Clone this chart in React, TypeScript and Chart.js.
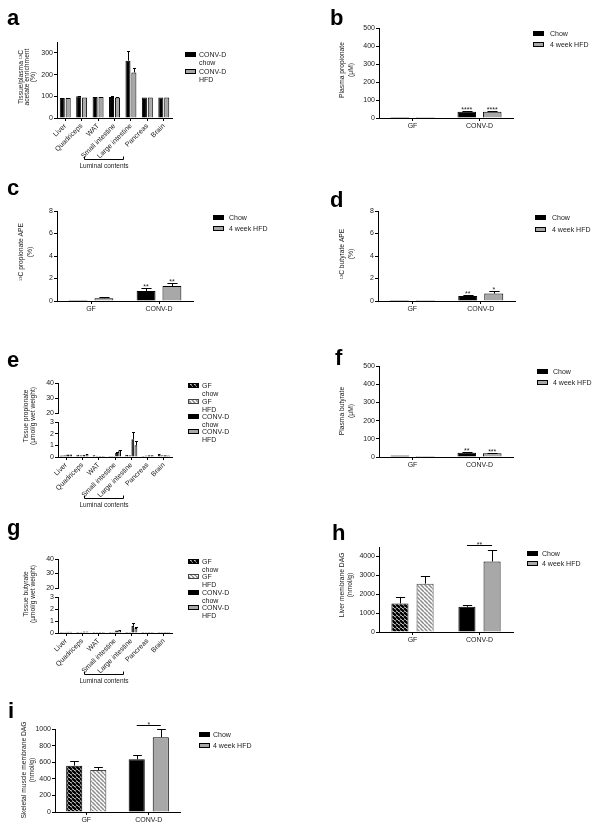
import React, { useEffect, useRef } from 'react';
import { Chart, registerables } from 'chart.js';

Chart.register(...registerables);

const FONT = '"Liberation Sans", Arial, Helvetica, sans-serif';
const TXT = '#1a1a1a';
const GREY = '#a8a8a8';
const YW = 24;
const XH = 14;
const XH_ROT = 40;

// ---------------- data ----------------
const tissueLabels = ['Liver', 'Quadriceps', 'WAT', 'Small intestine', 'Large intestine', 'Pancreas', 'Brain'];
const groupLabels = ['GF', 'CONV-D'];

// a: tissue/plasma 13C acetate enrichment (%)
const acetateChow = [92, 100, 97, 97, 264, 94, 94];
const acetateChowSem = [2, 3, 2, 6, 45, 1, 1];
const acetateHfd = [92, 94, 97, 94, 210, 94, 94];
const acetateHfdSem = [2, 1, 2, 3, 20, 1, 1];
const acetateTicks = [0, 100, 200, 300];

// b: plasma propionate (uM)
const plasmaPropChow = [3, 35];
const plasmaPropChowSem = [1, 3];
const plasmaPropChowStars = ['', '****'];
const plasmaPropHfd = [3, 35];
const plasmaPropHfdSem = [1, 3];
const plasmaPropHfdStars = ['', '****'];
const plasmaTicks = [0, 100, 200, 300, 400, 500];

// c: 13C propionate APE (%)
const apePropChow = [0.05, 0.89];
const apePropChowSem = [0.02, 0.24];
const apePropChowStars = ['', '**'];
const apePropHfd = [0.25, 1.33];
const apePropHfdSem = [0.12, 0.3];
const apePropHfdStars = ['', '**'];
const apeTicks = [0, 2, 4, 6, 8];

// d: 13C butyrate APE (%)
const apeButChow = [0.02, 0.44];
const apeButChowSem = [0.01, 0.1];
const apeButChowStars = ['', '**'];
const apeButHfd = [0.04, 0.66];
const apeButHfdSem = [0.02, 0.23];
const apeButHfdStars = ['', '*'];

// e: tissue propionate (umol/g wet weight)
const tPropGfChow = [0.12, 0.2, 0.15, 0.05, 0.2, 0.05, 0.25];
const tPropGfChowSem = [0.03, 0.03, 0.02, 0.01, 0.04, 0.01, 0.04];
const tPropGfHfd = [0.15, 0.15, 0.1, 0.05, 0.15, 0.12, 0.15];
const tPropGfHfdSem = [0.03, 0.03, 0.02, 0.01, 0.03, 0.02, 0.03];
const tPropConvChow = [0.22, 0.2, 0.08, 0.35, 1.52, 0.15, 0.15];
const tPropConvChowSem = [0.04, 0.03, 0.02, 0.06, 0.6, 0.03, 0.03];
const tPropConvHfd = [0.22, 0.25, 0.05, 0.57, 1.0, 0.15, 0.12];
const tPropConvHfdSem = [0.04, 0.04, 0.02, 0.05, 0.37, 0.03, 0.03];
const tissueLowTicks = [0, 1, 2, 3];
const tissueHighTicks = [20, 30, 40];

// f: plasma butyrate (uM)
const plasmaButChow = [8, 24];
const plasmaButChowSem = [2, 3];
const plasmaButChowStars = ['', '**'];
const plasmaButHfd = [3, 20];
const plasmaButHfdSem = [1, 3];
const plasmaButHfdStars = ['', '***'];

// g: tissue butyrate (umol/g wet weight)
const tButGfChow = [0.05, 0.05, 0.05, 0.03, 0.05, 0.05, 0.05];
const tButGfChowSem = [0.01, 0.01, 0.01, 0.01, 0.01, 0.01, 0.01];
const tButGfHfd = [0.05, 0.08, 0.05, 0.05, 0.05, 0.03, 0.05];
const tButGfHfdSem = [0.01, 0.01, 0.01, 0.01, 0.01, 0.01, 0.01];
const tButConvChow = [0.1, 0.12, 0.05, 0.2, 0.6, 0.08, 0.08];
const tButConvChowSem = [0.02, 0.02, 0.01, 0.04, 0.25, 0.02, 0.02];
const tButConvHfd = [0.1, 0.12, 0.03, 0.25, 0.42, 0.07, 0.05];
const tButConvHfdSem = [0.02, 0.02, 0.01, 0.04, 0.1, 0.02, 0.01];

// h: liver membrane DAG (nmol/g)
const liverDagChow = [1510, 1333];
const liverDagChowSem = [320, 120];
const liverDagHfd = [2560, 3737];
const liverDagHfdSem = [400, 615];
const liverDagTicks = [0, 1000, 2000, 3000, 4000];

// i: skeletal muscle membrane DAG (nmol/g)
const muscleDagChow = [558, 635];
const muscleDagChowSem = [60, 52];
const muscleDagHfd = [506, 900];
const muscleDagHfdSem = [32, 100];
const muscleDagTicks = [0, 200, 400, 600, 800, 1000];

// ---------------- specs ----------------
type FillKey = 'black' | 'grey' | 'hatchDark' | 'hatchLight';
interface Series { label: string; data: number[]; sem: number[]; stars?: string[]; fill: FillKey | FillKey[]; stroke: string | string[]; }
interface YSpec { id: string; min: number; max: number; ticks: number[] | null; sw?: number; }
interface Spec {
  id: string; letter: string; letterPos: [number, number];
  box: [number, number, number, number];
  area: [number, number, number, number];
  labels: string[]; rotate: boolean; catPct: number; barPct: number;
  series: Series[]; y: YSpec[];
  yTitle: { lines: string[]; xs: number[]; yc: number };
  legend: { x: number; tx: number; ys: number[]; items: { lines: string[]; fill: FillKey; stroke: string }[] };
  bracket?: boolean;
  sig?: { index: number; text: string; dy: number };
}

const twoLegend = (x: number, tx: number, ys: number[]) => ({
  x, tx, ys,
  items: [
    { lines: ['Chow'], fill: 'black' as FillKey, stroke: '#000' },
    { lines: ['4 week HFD'], fill: 'grey' as FillKey, stroke: '#000' },
  ],
});
const fourLegend = (ys: number[]) => ({
  x: 188, tx: 202, ys,
  items: [
    { lines: ['GF', 'chow'], fill: 'hatchDark' as FillKey, stroke: '#000' },
    { lines: ['GF', 'HFD'], fill: 'hatchLight' as FillKey, stroke: '#444' },
    { lines: ['CONV-D', 'chow'], fill: 'black' as FillKey, stroke: '#000' },
    { lines: ['CONV-D', 'HFD'], fill: 'grey' as FillKey, stroke: '#000' },
  ],
});

const SPECS: Spec[] = [
  {
    id: 'a', letter: 'a', letterPos: [7, 25], box: [0, 0, 300, 178], area: [57, 42, 172, 118],
    labels: tissueLabels, rotate: true, catPct: 0.72, barPct: 0.85,
    series: [
      { label: 'CONV-D chow', data: acetateChow, sem: acetateChowSem, fill: 'black', stroke: '#000' },
      { label: 'CONV-D HFD', data: acetateHfd, sem: acetateHfdSem, fill: 'grey', stroke: '#000' },
    ],
    y: [{ id: 'y', min: 0, max: 350, ticks: acetateTicks }],
    yTitle: { lines: ['Tissue/plasma ¹³C', 'acetate enrichment', '(%)'], xs: [21, 27, 33], yc: 77 },
    legend: {
      x: 185, tx: 199, ys: [52, 69],
      items: [
        { lines: ['CONV-D', 'chow'], fill: 'black', stroke: '#000' },
        { lines: ['CONV-D', 'HFD'], fill: 'grey', stroke: '#000' },
      ],
    },
    bracket: true,
  },
  {
    id: 'b', letter: 'b', letterPos: [330, 25], box: [300, 0, 302, 140], area: [379, 28, 513, 118],
    labels: groupLabels, rotate: false, catPct: 0.76, barPct: 0.73,
    series: [
      { label: 'Chow', data: plasmaPropChow, sem: plasmaPropChowSem, stars: plasmaPropChowStars, fill: 'black', stroke: '#000' },
      { label: '4 week HFD', data: plasmaPropHfd, sem: plasmaPropHfdSem, stars: plasmaPropHfdStars, fill: 'grey', stroke: '#000' },
    ],
    y: [{ id: 'y', min: 0, max: 500, ticks: plasmaTicks }],
    yTitle: { lines: ['Plasma propionate', '(μM)'], xs: [342, 351], yc: 70 },
    legend: twoLegend(533, 550, [31, 42]),
  },
  {
    id: 'c', letter: 'c', letterPos: [7, 195], box: [0, 178, 300, 140], area: [57, 211, 193, 301],
    labels: groupLabels, rotate: false, catPct: 0.76, barPct: 0.73,
    series: [
      { label: 'Chow', data: apePropChow, sem: apePropChowSem, stars: apePropChowStars, fill: 'black', stroke: '#000' },
      { label: '4 week HFD', data: apePropHfd, sem: apePropHfdSem, stars: apePropHfdStars, fill: 'grey', stroke: '#000' },
    ],
    y: [{ id: 'y', min: 0, max: 8, ticks: apeTicks }],
    yTitle: { lines: ['¹³C propionate APE', '(%)'], xs: [21, 30], yc: 252 },
    legend: twoLegend(213, 229, [215, 226]),
  },
  {
    id: 'd', letter: 'd', letterPos: [330, 207], box: [300, 178, 302, 140], area: [378, 211, 515, 301],
    labels: groupLabels, rotate: false, catPct: 0.76, barPct: 0.73,
    series: [
      { label: 'Chow', data: apeButChow, sem: apeButChowSem, stars: apeButChowStars, fill: 'black', stroke: '#000' },
      { label: '4 week HFD', data: apeButHfd, sem: apeButHfdSem, stars: apeButHfdStars, fill: 'grey', stroke: '#000' },
    ],
    y: [{ id: 'y', min: 0, max: 8, ticks: apeTicks }],
    yTitle: { lines: ['¹³C butyrate APE', '(%)'], xs: [342, 351], yc: 254 },
    legend: twoLegend(535, 552, [215, 227]),
  },
  {
    id: 'e', letter: 'e', letterPos: [7, 367], box: [0, 340, 300, 175], area: [58, 383, 172, 457],
    labels: tissueLabels, rotate: true, catPct: 0.76, barPct: 0.9,
    series: [
      { label: 'GF chow', data: tPropGfChow, sem: tPropGfChowSem, fill: 'hatchDark', stroke: '#000' },
      { label: 'GF HFD', data: tPropGfHfd, sem: tPropGfHfdSem, fill: 'hatchLight', stroke: '#444' },
      { label: 'CONV-D chow', data: tPropConvChow, sem: tPropConvChowSem, fill: 'black', stroke: '#000' },
      { label: 'CONV-D HFD', data: tPropConvHfd, sem: tPropConvHfdSem, fill: 'grey', stroke: '#000' },
    ],
    y: [
      { id: 'y', min: 0, max: 3, ticks: tissueLowTicks, sw: 35 },
      { id: 'yGap', min: 0, max: 1, ticks: null, sw: 9 },
      { id: 'yTop', min: 20, max: 40, ticks: tissueHighTicks, sw: 30 },
    ],
    yTitle: { lines: ['Tissue propionate', '(µmol/g wet weight)'], xs: [26, 33], yc: 416 },
    legend: fourLegend([383, 399, 414, 429]),
    bracket: true,
  },
  {
    id: 'f', letter: 'f', letterPos: [335, 365], box: [300, 335, 302, 150], area: [379, 366, 513, 457],
    labels: groupLabels, rotate: false, catPct: 0.76, barPct: 0.73,
    series: [
      { label: 'Chow', data: plasmaButChow, sem: plasmaButChowSem, stars: plasmaButChowStars, fill: 'black', stroke: '#000' },
      { label: '4 week HFD', data: plasmaButHfd, sem: plasmaButHfdSem, stars: plasmaButHfdStars, fill: 'grey', stroke: '#000' },
    ],
    y: [{ id: 'y', min: 0, max: 500, ticks: plasmaTicks }],
    yTitle: { lines: ['Plasma butyrate', '(μM)'], xs: [342, 351], yc: 411 },
    legend: twoLegend(537, 553, [369, 380]),
  },
  {
    id: 'g', letter: 'g', letterPos: [7, 535], box: [0, 515, 300, 175], area: [58, 559, 172, 633],
    labels: tissueLabels, rotate: true, catPct: 0.76, barPct: 0.9,
    series: [
      { label: 'GF chow', data: tButGfChow, sem: tButGfChowSem, fill: 'hatchDark', stroke: '#000' },
      { label: 'GF HFD', data: tButGfHfd, sem: tButGfHfdSem, fill: 'hatchLight', stroke: '#444' },
      { label: 'CONV-D chow', data: tButConvChow, sem: tButConvChowSem, fill: 'black', stroke: '#000' },
      { label: 'CONV-D HFD', data: tButConvHfd, sem: tButConvHfdSem, fill: 'grey', stroke: '#000' },
    ],
    y: [
      { id: 'y', min: 0, max: 3, ticks: tissueLowTicks, sw: 36 },
      { id: 'yGap', min: 0, max: 1, ticks: null, sw: 9 },
      { id: 'yTop', min: 20, max: 40, ticks: tissueHighTicks, sw: 29 },
    ],
    yTitle: { lines: ['Tissue butyrate', '(µmol/g wet weight)'], xs: [26, 33], yc: 594 },
    legend: fourLegend([559, 574, 590, 605]),
    bracket: true,
  },
  {
    id: 'h', letter: 'h', letterPos: [332, 540], box: [300, 500, 302, 160], area: [379, 547, 513, 632],
    labels: groupLabels, rotate: false, catPct: 0.75, barPct: 0.68,
    series: [
      { label: 'Chow', data: liverDagChow, sem: liverDagChowSem, fill: ['hatchDark', 'black'], stroke: ['#000', '#000'] },
      { label: '4 week HFD', data: liverDagHfd, sem: liverDagHfdSem, fill: ['hatchLight', 'grey'], stroke: ['#444', '#000'] },
    ],
    y: [{ id: 'y', min: 0, max: 4500, ticks: liverDagTicks }],
    yTitle: { lines: ['Liver membrane DAG', '(nmol/g)'], xs: [342, 350], yc: 585 },
    legend: twoLegend(527, 542, [551, 561]),
    sig: { index: 1, text: '**', dy: 5 },
  },
  {
    id: 'i', letter: 'i', letterPos: [8, 718], box: [0, 690, 300, 139], area: [55, 729, 180, 812],
    labels: groupLabels, rotate: false, catPct: 0.77, barPct: 0.67,
    series: [
      { label: 'Chow', data: muscleDagChow, sem: muscleDagChowSem, fill: ['hatchDark', 'black'], stroke: ['#000', '#000'] },
      { label: '4 week HFD', data: muscleDagHfd, sem: muscleDagHfdSem, fill: ['hatchLight', 'grey'], stroke: ['#444', '#000'] },
    ],
    y: [{ id: 'y', min: 0, max: 1000, ticks: muscleDagTicks }],
    yTitle: { lines: ['Skeletal muscle membrane DAG', '(nmol/g)'], xs: [24, 32], yc: 770 },
    legend: twoLegend(199, 213, [732, 743]),
    sig: { index: 1, text: '*', dy: 4 },
  },
];

// ---------------- helpers ----------------
function makeFills(ctx: CanvasRenderingContext2D) {
  const mk = (bg: string, fg: string, lw: number) => {
    const c = document.createElement('canvas');
    const s = 4;
    c.width = s; c.height = s;
    const g = c.getContext('2d')!;
    g.fillStyle = bg; g.fillRect(0, 0, s, s);
    g.strokeStyle = fg; g.lineWidth = lw;
    g.beginPath();
    for (let k = -1; k <= 1; k++) { g.moveTo(k * s, 0); g.lineTo(k * s + s, s); }
    g.stroke();
    return ctx.createPattern(c, 'repeat') as any;
  };
  return {
    black: '#000000',
    grey: GREY,
    hatchDark: mk('#ffffff', '#000000', 2.4),
    hatchLight: mk('#ffffff', '#8c8c8c', 1.5),
  } as Record<string, any>;
}

function yScale(ys: YSpec, stacked: boolean, weight: number) {
  const base: any = {
    type: 'linear', position: 'left', min: ys.min, max: ys.max,
    afterFit: (s: any) => { s.width = YW; },
  };
  if (stacked) { base.stack = 'v'; base.stackWeight = ys.sw; base.weight = weight; }
  if (!ys.ticks) {
    return {
      ...base,
      ticks: { display: false },
      grid: { display: false },
      border: { display: false },
    };
  }
  const tickVals = ys.ticks;
  return {
    ...base,
    afterBuildTicks: (s: any) => { s.ticks = tickVals.map((v) => ({ value: v })); },
    ticks: { font: { family: FONT, size: 7 }, color: TXT, padding: 1, autoSkip: false, callback: (v: any) => String(v) },
    grid: { display: true, drawOnChartArea: false, drawTicks: true, tickLength: 3, color: '#000', tickColor: '#000', lineWidth: 1 },
    border: { display: true, color: '#000', width: 1 },
  };
}

function buildChart(canvas: HTMLCanvasElement, spec: Spec) {
  const ctx = canvas.getContext('2d')!;
  const fills = makeFills(ctx);
  const [cx, cy, cw, ch] = spec.box;
  const [L, T, R, B] = spec.area;
  const xh = spec.rotate ? XH_ROT : XH;
  const res = (f: FillKey | FillKey[]) => (Array.isArray(f) ? f.map((k) => fills[k]) : fills[f]);

  const scales: any = {
    x: {
      type: 'category', position: 'bottom',
      afterFit: (s: any) => { s.height = xh; },
      ticks: {
        font: { family: FONT, size: 7 }, color: TXT, padding: 1, autoSkip: false,
        maxRotation: spec.rotate ? 45 : 0, minRotation: spec.rotate ? 45 : 0,
      },
      grid: { display: true, drawOnChartArea: false, drawTicks: true, tickLength: 3, offset: false, color: '#000', tickColor: '#000' },
      border: { display: true, color: '#000', width: 1 },
    },
  };
  const stacked = spec.y.length > 1;
  spec.y.forEach((ys, idx) => { scales[ys.id] = yScale(ys, stacked, idx + 1); });

  const extras = {
    id: 'extras',
    afterDatasetsDraw(chart: any) {
      const c = chart.ctx as CanvasRenderingContext2D;
      const ysc = chart.scales.y;
      c.save();
      spec.series.forEach((s, di) => {
        const meta = chart.getDatasetMeta(di);
        meta.data.forEach((el: any, i: number) => {
          const v = s.data[i];
          if (v == null) return;
          const e = s.sem[i] || 0;
          const top = ysc.getPixelForValue(v + e);
          const x = Math.round(el.x) + 0.5;
          if (e > 0 && top < el.y - 0.5) {
            const half = Math.max(1.5, el.width * 0.27);
            const ty = Math.round(top) + 0.5;
            c.strokeStyle = '#000'; c.lineWidth = 1;
            c.beginPath();
            c.moveTo(x, el.y); c.lineTo(x, ty);
            c.moveTo(x - half, ty); c.lineTo(x + half, ty);
            c.stroke();
          }
          const st = s.stars ? s.stars[i] : '';
          if (st) {
            c.fillStyle = TXT; c.font = `7px ${FONT}`;
            c.textAlign = 'center'; c.textBaseline = 'alphabetic';
            c.fillText(st, el.x, Math.min(top, el.y) + 1);
          }
        });
      });
      if (spec.sig) {
        const k = spec.sig.index;
        const e0 = chart.getDatasetMeta(0).data[k];
        const e1 = chart.getDatasetMeta(1).data[k];
        const t0 = ysc.getPixelForValue(spec.series[0].data[k] + spec.series[0].sem[k]);
        const t1 = ysc.getPixelForValue(spec.series[1].data[k] + spec.series[1].sem[k]);
        const y = Math.round(Math.min(t0, t1) - spec.sig.dy) + 0.5;
        c.strokeStyle = '#000'; c.lineWidth = 1;
        c.beginPath(); c.moveTo(e0.x, y); c.lineTo(e1.x, y); c.stroke();
        c.fillStyle = TXT; c.font = `7px ${FONT}`; c.textAlign = 'center'; c.textBaseline = 'alphabetic';
        c.fillText(spec.sig.text, (e0.x + e1.x) / 2, y + 1);
      }
      if (spec.bracket) {
        const xs = chart.scales.x;
        const x1 = Math.round(xs.getPixelForValue(3) - 31) + 0.5;
        const x2 = Math.round(xs.getPixelForValue(4) - 8) + 0.5;
        const y = Math.round(chart.chartArea.bottom + 41) + 0.5;
        c.strokeStyle = '#000'; c.lineWidth = 1;
        c.beginPath(); c.moveTo(x1, y - 3); c.lineTo(x1, y); c.lineTo(x2, y); c.lineTo(x2, y - 3); c.stroke();
        c.fillStyle = TXT; c.font = `6.5px ${FONT}`; c.textAlign = 'center'; c.textBaseline = 'alphabetic';
        c.fillText('Luminal contents', (x1 + x2) / 2, y + 8.5);
      }
      c.restore();
    },
    afterDraw(chart: any) {
      const c = chart.ctx as CanvasRenderingContext2D;
      c.save();
      c.translate(-cx, -cy);
      // panel letter
      c.fillStyle = '#000'; c.font = `bold 22px ${FONT}`; c.textAlign = 'left'; c.textBaseline = 'alphabetic';
      c.fillText(spec.letter, spec.letterPos[0], spec.letterPos[1]);
      // y title
      c.fillStyle = TXT; c.font = `6.7px ${FONT}`; c.textAlign = 'center'; c.textBaseline = 'middle';
      spec.yTitle.lines.forEach((ln, i) => {
        c.save();
        c.translate(spec.yTitle.xs[i], spec.yTitle.yc);
        c.rotate(-Math.PI / 2);
        c.fillText(ln, 0, 0);
        c.restore();
      });
      // legend
      const lg = spec.legend;
      lg.items.forEach((it, i) => {
        const y = lg.ys[i];
        c.fillStyle = fills[it.fill];
        c.fillRect(lg.x, y, 11, 5);
        c.strokeStyle = it.stroke; c.lineWidth = 1;
        c.strokeRect(lg.x + 0.5, y + 0.5, 10, 4);
        c.fillStyle = TXT; c.font = `7px ${FONT}`; c.textAlign = 'left'; c.textBaseline = 'alphabetic';
        it.lines.forEach((ln, j) => c.fillText(ln, lg.tx, y + 5 + j * 7.5));
      });
      c.restore();
    },
  };

  return new Chart(canvas, {
    type: 'bar',
    data: {
      labels: spec.labels,
      datasets: spec.series.map((s) => ({
        label: s.label,
        data: s.data,
        yAxisID: 'y',
        backgroundColor: res(s.fill),
        borderColor: s.stroke,
        borderWidth: 1,
        minBarLength: 1,
        categoryPercentage: spec.catPct,
        barPercentage: spec.barPct,
      })) as any,
    },
    options: {
      responsive: false,
      maintainAspectRatio: false,
      animation: false,
      events: [],
      layout: {
        padding: {
          left: L - cx - YW,
          top: T - cy,
          right: cx + cw - R,
          bottom: cy + ch - B - xh,
        },
      },
      plugins: { legend: { display: false }, tooltip: { enabled: false }, title: { display: false } },
      scales,
    } as any,
    plugins: [extras as any],
  });
}

function Panel({ spec }: { spec: Spec }) {
  const ref = useRef<HTMLCanvasElement>(null);
  useEffect(() => {
    const chart = buildChart(ref.current!, spec);
    return () => chart.destroy();
  }, [spec]);
  const [x, y, w, h] = spec.box;
  return (
    <canvas
      ref={ref}
      width={w}
      height={h}
      style={{ position: 'absolute', left: x, top: y, width: w, height: h }}
    />
  );
}

export default function App() {
  return (
    <div style={{ position: 'absolute', left: 0, top: 0, width: 602, height: 829, background: '#fff', overflow: 'hidden' }}>
      {SPECS.map((s) => (
        <Panel key={s.id} spec={s} />
      ))}
    </div>
  );
}
